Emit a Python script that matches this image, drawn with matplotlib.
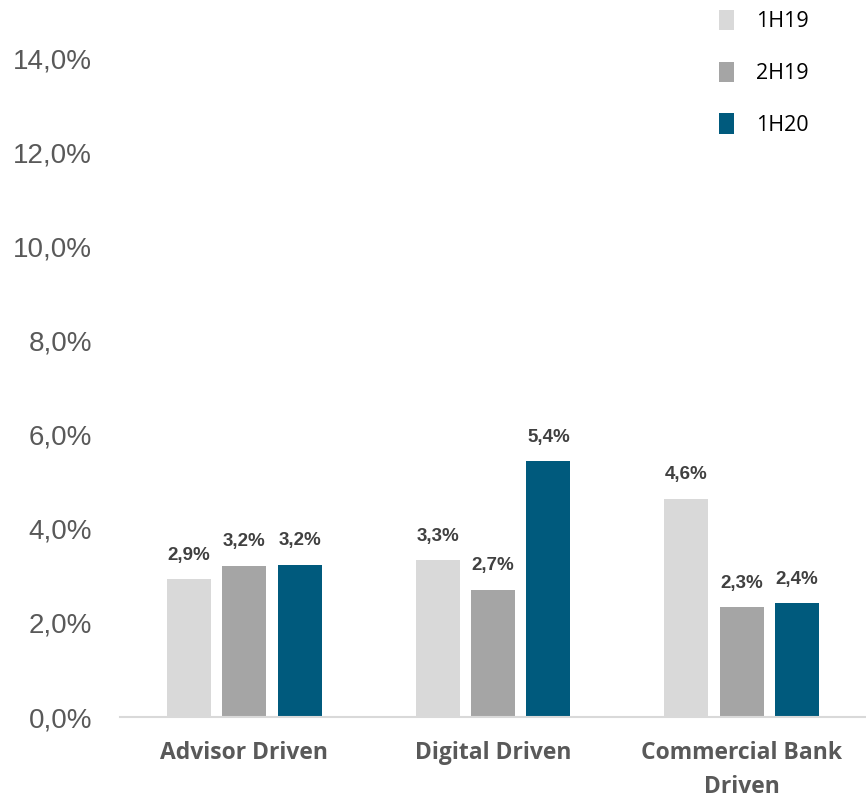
import matplotlib.pyplot as plt
import numpy as np

categories = ['Advisor Driven', 'Digital Driven', 'Commercial Bank\nDriven']
series = ['1H19', '2H19', '1H20']
values = {
    '1H19': [2.93, 3.33, 4.64],
    '2H19': [3.21, 2.70, 2.33],
    '1H20': [3.24, 5.44, 2.42],
}
colors = ['#D9D9D9', '#A5A5A5', '#005A7D']
yticks = [0, 2, 4, 6, 8, 10, 12, 14]

fig = plt.figure(figsize=(8.66, 7.98), dpi=100)
ax = fig.add_axes([0.1386, 0.1015, 0.8614, 0.8255])

x = np.arange(len(categories))
width = 0.177
step = 0.223
for i, s in enumerate(series):
    pos = x + (i - 1) * step
    bars = ax.bar(pos, values[s], width=width, color=colors[i], label=s, zorder=2)
    for b, v in zip(bars, values[s]):
        ax.text(b.get_x() + b.get_width() / 2, v + 0.33, ('%.1f%%' % v).replace('.', ','),
                ha='center', va='bottom', fontsize=13.5, fontweight='bold',
                color='#404040', family='Liberation Sans')

ax.set_xlim(-0.5, 2.5)
ax.set_ylim(0, 14)
ax.set_yticks(yticks)
ax.set_yticklabels([('%.1f%%' % t).replace('.', ',') for t in yticks],
                   fontsize=20, color='#595959', family='Liberation Sans')
ax.set_xticks(x)
ax.set_xticklabels(categories, fontsize=16.5, fontweight='bold', color='#595959',
                   family='Open Sans', linespacing=1.6)
ax.tick_params(axis='both', length=0)
ax.tick_params(axis='y', pad=20)
ax.tick_params(axis='x', pad=17)
for sp in ['top', 'right', 'left']:
    ax.spines[sp].set_visible(False)
ax.spines['bottom'].set_color('#D9D9D9')
ax.spines['bottom'].set_linewidth(1.5)

leg = fig.legend(loc='upper left', bbox_to_anchor=(0.808, 1.012), frameon=False,
                 prop={'family': 'Open Sans', 'size': 15.5}, handlelength=0.7,
                 handleheight=1.1, labelspacing=1.35, handletextpad=1.0)

fig.savefig('out.png', dpi=100)
